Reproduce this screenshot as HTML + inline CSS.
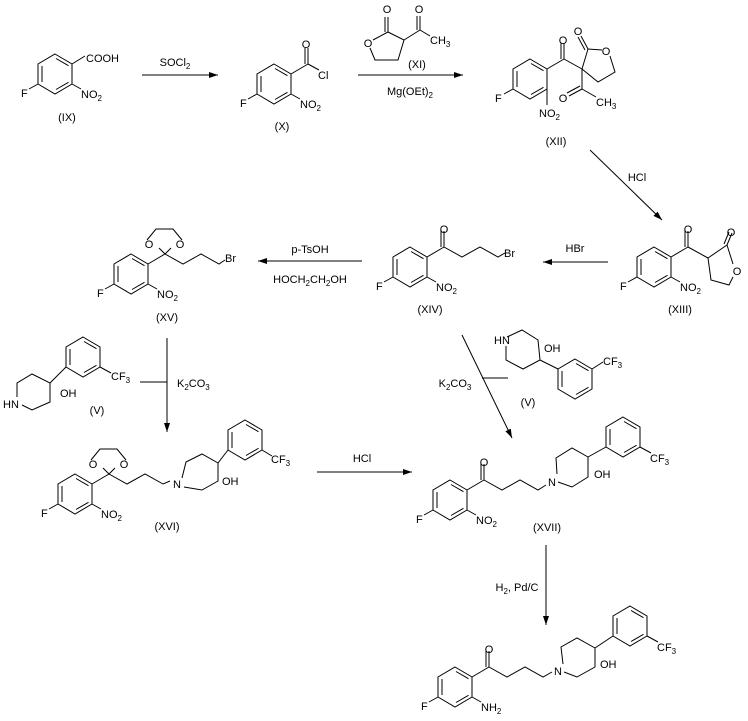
<!DOCTYPE html>
<html><head><meta charset="utf-8"><style>
html,body{margin:0;padding:0;background:#fff;}
svg{display:block;}
text{font-family:"Liberation Sans",sans-serif;font-size:11px;fill:#000;}
.m{text-anchor:middle;}
</style></head><body>
<svg width="748" height="721" viewBox="0 0 748 721" xmlns="http://www.w3.org/2000/svg">
<defs>
<g id="bz" fill="none" stroke="#000" stroke-width="1">
<polygon points="0,-20 17,-10 17,10 0,20 -17,10 -17,-10"/>
<line x1="-13" y1="-8" x2="-13" y2="8"/>
<line x1="1" y1="-15.5" x2="13.5" y2="-8.3"/>
<line x1="1" y1="15.5" x2="13.5" y2="8.3"/>
</g>
<g id="ar" fill="none" stroke="#000" stroke-width="1">
<line x1="-17" y1="10" x2="-26" y2="15"/>
<line x1="17" y1="10" x2="26" y2="15"/>
</g>
<g id="co" fill="none" stroke="#000" stroke-width="1">
<line x1="17" y1="-10" x2="34" y2="-20"/>
<line x1="34" y1="-20" x2="34" y2="-36"/>
<line x1="31" y1="-20" x2="31" y2="-36"/>
</g>
<marker id="ah" markerWidth="10" markerHeight="8" refX="9" refY="4" orient="auto" markerUnits="userSpaceOnUse">
<path d="M0,1 L9,4 L0,7 Z" fill="#000"/>
</marker>
</defs>

<g stroke="#000" stroke-width="1" fill="none">
<line x1="142" y1="75" x2="218" y2="75" marker-end="url(#ah)"/>
<line x1="358" y1="75" x2="463" y2="75" marker-end="url(#ah)"/>
<line x1="590" y1="150" x2="662" y2="220" marker-end="url(#ah)"/>
<line x1="608" y1="262" x2="543" y2="262" marker-end="url(#ah)"/>
<line x1="362" y1="261" x2="258" y2="261" marker-end="url(#ah)"/>
<line x1="167" y1="338" x2="167" y2="432" marker-end="url(#ah)"/>
<line x1="140" y1="382" x2="167" y2="382"/>
<line x1="317" y1="472" x2="412" y2="472" marker-end="url(#ah)"/>
<line x1="462" y1="335" x2="512" y2="438" marker-end="url(#ah)"/>
<line x1="482" y1="378" x2="508" y2="378"/>
<line x1="546" y1="545" x2="546" y2="625" marker-end="url(#ah)"/>

<!-- IX -->
<g transform="translate(55,74)"><use href="#bz"/><use href="#ar"/><line x1="17" y1="-10" x2="30" y2="-18"/></g>
<!-- X -->
<g transform="translate(274,84)"><use href="#bz"/><use href="#ar"/><use href="#co"/><line x1="34" y1="-20" x2="45" y2="-14"/></g>
<!-- XI -->
<polyline points="373,40 388,32 404,40 398,60 375,60 370,48"/>
<line x1="388" y1="32" x2="388" y2="17"/><line x1="385" y1="32" x2="385" y2="17"/>
<line x1="404" y1="40" x2="420" y2="30"/>
<line x1="420" y1="30" x2="420" y2="16"/><line x1="417" y1="30" x2="417" y2="16"/>
<line x1="420" y1="30" x2="430" y2="36"/>
<!-- XII -->
<g transform="translate(530,79)"><use href="#bz"/><line x1="-17" y1="10" x2="-26" y2="15"/><line x1="17" y1="10" x2="17" y2="26"/>
<line x1="17" y1="-10" x2="34" y2="-20"/><line x1="34" y1="-20" x2="34" y2="-36"/><line x1="31" y1="-20" x2="31" y2="-36"/></g>
<line x1="564" y1="59" x2="582" y2="69"/>
<polyline points="582,69 588,49 602,50"/>
<polyline points="610,56 615,72 598,82 582,69"/>
<line x1="588" y1="49" x2="581" y2="36"/><line x1="585" y1="50" x2="578" y2="37"/>
<line x1="582" y1="69" x2="582" y2="89"/>
<line x1="582" y1="89" x2="569" y2="96"/><line x1="580" y1="86" x2="567" y2="93"/>
<line x1="582" y1="89" x2="596" y2="97"/>
<!-- XIII -->
<g transform="translate(654,267)"><use href="#bz"/><use href="#ar"/><use href="#co"/></g>
<line x1="688" y1="247" x2="708" y2="258"/>
<polyline points="708,258 727,245 733,264"/>
<polyline points="733,277 729,285 711,280 708,258"/>
<line x1="727" y1="245" x2="732" y2="233"/><line x1="724" y1="244" x2="729" y2="232"/>
<!-- XIV -->
<g transform="translate(410,267)"><use href="#bz"/><use href="#ar"/><use href="#co"/></g>
<polyline points="444,247 462,257 480,247 498,257 505,253"/>
<!-- XV -->
<g transform="translate(131,274)"><use href="#bz"/><use href="#ar"/><line x1="17" y1="-10" x2="34" y2="-20"/></g>
<polyline points="159,248 165,254 171,248"/>
<polyline points="147,240 156,229 173,229 182,240"/>
<polyline points="165,254 183,264 201,254 219,264 225,260"/>
<!-- V left -->
<polyline points="17,397 17,383 32,374 50,383 50,402 32,410 22,405"/>
<g transform="translate(83,357)"><use href="#bz"/></g>
<line x1="50" y1="383" x2="66" y2="367"/>
<line x1="100" y1="367" x2="111" y2="373"/>
<!-- XVI -->
<g transform="translate(75,494)"><use href="#bz"/><use href="#ar"/><line x1="17" y1="-10" x2="34" y2="-20"/></g>
<polyline points="103,468 109,474 115,468"/>
<polyline points="91,460 100,449 117,449 126,460"/>
<polyline points="109,474 127,484 145,474 163,484 170,481"/>
<polyline points="182,478 186,462 202,454 218,463 218,481 202,490 184,487"/>
<g transform="translate(245,440)"><use href="#bz"/></g>
<line x1="218" y1="463" x2="228" y2="450"/>
<line x1="262" y1="450" x2="272" y2="456"/>
<!-- XVII -->
<g transform="translate(450,500)"><use href="#bz"/><use href="#ar"/><use href="#co"/></g>
<polyline points="484,480 502,490 520,480 538,490 546,485"/>
<polyline points="557,474 556,458 572,448 588,457 588,477 572,487 558,482"/>
<g transform="translate(623,437)"><use href="#bz"/></g>
<line x1="588" y1="457" x2="606" y2="447"/>
<line x1="640" y1="447" x2="651" y2="453"/>
<!-- V right -->
<polyline points="507,337 522,330 538,340 540,360 523,369 506,360 506,346"/>
<g transform="translate(575,379)"><use href="#bz"/></g>
<line x1="540" y1="360" x2="558" y2="369"/>
<line x1="592" y1="369" x2="603" y2="362"/>
<!-- final -->
<g transform="translate(455,687)"><use href="#bz"/><use href="#ar"/><use href="#co"/></g>
<polyline points="489,667 507,677 525,667 543,677 552,672"/>
<polyline points="563,664 561,647 577,638 595,648 595,667 577,677 564,672"/>
<g transform="translate(630,626)"><use href="#bz"/></g>
<line x1="595" y1="648" x2="613" y2="636"/>
<line x1="647" y1="636" x2="658" y2="642"/>
</g>

<text x="86" y="62">COOH</text>
<text x="21" y="97">F</text>
<text x="81" y="98">NO<tspan dy="3" font-size="8">2</tspan></text>
<text class="m" x="67" y="121">(IX)</text>
<text class="m" x="175" y="66">SOCl<tspan dy="3" font-size="8">2</tspan></text>

<text class="m" x="306" y="48">O</text>
<text x="318" y="79">Cl</text>
<text x="240" y="107">F</text>
<text x="300" y="108">NO<tspan dy="3" font-size="8">2</tspan></text>
<text class="m" x="282" y="130">(X)</text>

<text class="m" x="387" y="13">O</text>
<text class="m" x="368" y="47">O</text>
<text class="m" x="419" y="13">O</text>
<text x="430" y="44">CH<tspan dy="3" font-size="8">3</tspan></text>
<text class="m" x="417" y="68">(XI)</text>
<text class="m" x="410" y="95">Mg(OEt)<tspan dy="3" font-size="8">2</tspan></text>

<text class="m" x="563" y="44">O</text>
<text class="m" x="578" y="35">O</text>
<text class="m" x="606" y="55">O</text>
<text class="m" x="563" y="102">O</text>
<text x="596" y="106">CH<tspan dy="3" font-size="8">3</tspan></text>
<text x="495" y="102">F</text>
<text x="539" y="117">NO<tspan dy="3" font-size="8">2</tspan></text>
<text class="m" x="556" y="145">(XII)</text>
<text class="m" x="637" y="181">HCl</text>

<text class="m" x="688" y="233">O</text>
<text class="m" x="731" y="236">O</text>
<text class="m" x="737" y="275">O</text>
<text x="620" y="290">F</text>
<text x="680" y="291">NO<tspan dy="3" font-size="8">2</tspan></text>
<text class="m" x="680" y="313">(XIII)</text>
<text class="m" x="575" y="252">HBr</text>

<text class="m" x="444" y="233">O</text>
<text x="504" y="257">Br</text>
<text x="376" y="290">F</text>
<text x="436" y="291">NO<tspan dy="3" font-size="8">2</tspan></text>
<text class="m" x="430" y="313">(XIV)</text>

<text class="m" x="310" y="253">p-TsOH</text>
<text class="m" x="310" y="283">HOCH<tspan dy="3" font-size="8">2</tspan><tspan dy="-3">CH</tspan><tspan dy="3" font-size="8">2</tspan><tspan dy="-3">OH</tspan></text>

<text class="m" x="149" y="248">O</text>
<text class="m" x="180" y="248">O</text>
<text x="225" y="262">Br</text>
<text x="97" y="297">F</text>
<text x="157" y="298">NO<tspan dy="3" font-size="8">2</tspan></text>
<text class="m" x="167" y="321">(XV)</text>

<text x="3" y="408">HN</text>
<text x="60" y="397">OH</text>
<text x="111" y="380">CF<tspan dy="3" font-size="8">3</tspan></text>
<text class="m" x="97" y="414">(V)</text>
<text x="177" y="387">K<tspan dy="3" font-size="8">2</tspan><tspan dy="-3">CO</tspan><tspan dy="3" font-size="8">3</tspan></text>

<text class="m" x="93" y="468">O</text>
<text class="m" x="124" y="468">O</text>
<text class="m" x="177" y="488">N</text>
<text x="222" y="485">OH</text>
<text x="271" y="463">CF<tspan dy="3" font-size="8">3</tspan></text>
<text x="41" y="517">F</text>
<text x="101" y="518">NO<tspan dy="3" font-size="8">2</tspan></text>
<text class="m" x="167" y="530">(XVI)</text>
<text class="m" x="362" y="462">HCl</text>

<text x="494" y="344">HN</text>
<text x="544" y="352">OH</text>
<text x="603" y="365">CF<tspan dy="3" font-size="8">3</tspan></text>
<text class="m" x="528" y="406">(V)</text>
<text class="m" x="455" y="387">K<tspan dy="3" font-size="8">2</tspan><tspan dy="-3">CO</tspan><tspan dy="3" font-size="8">3</tspan></text>

<text class="m" x="484" y="466">O</text>
<text class="m" x="552" y="486">N</text>
<text x="594" y="478">OH</text>
<text x="650" y="462">CF<tspan dy="3" font-size="8">3</tspan></text>
<text x="416" y="523">F</text>
<text x="476" y="524">NO<tspan dy="3" font-size="8">2</tspan></text>
<text class="m" x="547" y="531">(XVII)</text>

<text class="m" x="517" y="591">H<tspan dy="3" font-size="8">2</tspan><tspan dy="-3">, Pd/C</tspan></text>

<text class="m" x="489" y="653">O</text>
<text class="m" x="558" y="675">N</text>
<text x="600" y="668">OH</text>
<text x="657" y="651">CF<tspan dy="3" font-size="8">3</tspan></text>
<text x="421" y="710">F</text>
<text x="481" y="711">NH<tspan dy="3" font-size="8">2</tspan></text>
</svg>
</body></html>
